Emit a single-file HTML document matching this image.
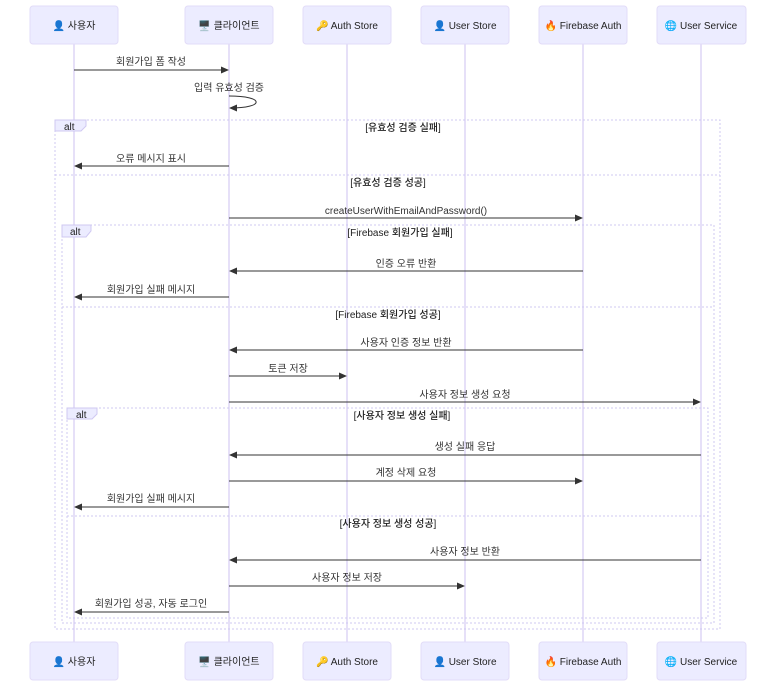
<!DOCTYPE html>
<html><head><meta charset="utf-8"><style>
html,body{margin:0;padding:0;background:#fff;}
svg{display:block;}
text{font-family:"Liberation Sans","Noto Sans CJK KR",sans-serif;font-size:10px;fill:#333;}
.b{fill:#ECECFF;stroke:#e2dcf8;stroke-width:1;}
.bt{font-size:10px;fill:#222;}
.ll{stroke:#ddd6f6;stroke-width:1.5;}
.m{stroke:#333;stroke-width:1;fill:none;}
.f{fill:none;stroke:#cfc8f2;stroke-width:1;stroke-dasharray:2,2;}
.al{fill:#ECECFF;stroke:#cfc8f2;stroke-width:1;}
.c{fill:#222;font-weight:500;}
</style></head><body>
<svg width="784" height="694" viewBox="0 0 784 694" xmlns="http://www.w3.org/2000/svg">
<defs><marker id="a" markerWidth="8" markerHeight="8" refX="7" refY="4" orient="auto" markerUnits="userSpaceOnUse"><path d="M0,0.5 L8,4 L0,7.5 z" fill="#333"/></marker></defs>
<g>
<line class="ll" x1="74" y1="44" x2="74" y2="642"/>
<line class="ll" x1="229" y1="44" x2="229" y2="642"/>
<line class="ll" x1="347" y1="44" x2="347" y2="642"/>
<line class="ll" x1="465" y1="44" x2="465" y2="642"/>
<line class="ll" x1="583" y1="44" x2="583" y2="642"/>
<line class="ll" x1="701" y1="44" x2="701" y2="642"/>
</g>
<g>
<rect class="b" x="30" y="6" width="88" height="38" rx="3"/><rect class="b" x="185" y="6" width="88" height="38" rx="3"/><rect class="b" x="303" y="6" width="88" height="38" rx="3"/><rect class="b" x="421" y="6" width="88" height="38" rx="3"/><rect class="b" x="539" y="6" width="88" height="38" rx="3"/><rect class="b" x="657" y="6" width="89" height="38" rx="3"/>
<text class="bt" x="74" y="29" text-anchor="middle">👤 사용자</text>
<text class="bt" x="229" y="29" text-anchor="middle">🖥️ 클라이언트</text>
<text class="bt" x="347" y="29" text-anchor="middle">🔑 Auth Store</text>
<text class="bt" x="465" y="29" text-anchor="middle">👤 User Store</text>
<text class="bt" x="583" y="29" text-anchor="middle">🔥 Firebase Auth</text>
<text class="bt" x="701" y="29" text-anchor="middle">🌐 User Service</text>
<rect class="b" x="30" y="642" width="88" height="38" rx="3"/><rect class="b" x="185" y="642" width="88" height="38" rx="3"/><rect class="b" x="303" y="642" width="88" height="38" rx="3"/><rect class="b" x="421" y="642" width="88" height="38" rx="3"/><rect class="b" x="539" y="642" width="88" height="38" rx="3"/><rect class="b" x="657" y="642" width="89" height="38" rx="3"/>
<text class="bt" x="74" y="665" text-anchor="middle">👤 사용자</text>
<text class="bt" x="229" y="665" text-anchor="middle">🖥️ 클라이언트</text>
<text class="bt" x="347" y="665" text-anchor="middle">🔑 Auth Store</text>
<text class="bt" x="465" y="665" text-anchor="middle">👤 User Store</text>
<text class="bt" x="583" y="665" text-anchor="middle">🔥 Firebase Auth</text>
<text class="bt" x="701" y="665" text-anchor="middle">🌐 User Service</text>
</g>
<rect class="f" x="55" y="120" width="665" height="509"/>
<line class="f" x1="55" y1="175" x2="720" y2="175"/>
<path class="al" d="M55,120 H86 V126 L81,131 H55 Z"/><text class="c" x="64" y="130">alt</text>
<text class="c" x="403" y="131" text-anchor="middle">[유효성 검증 실패]</text>
<text class="c" x="388" y="186" text-anchor="middle">[유효성 검증 성공]</text>
<rect class="f" x="62" y="225" width="652" height="398"/>
<line class="f" x1="62" y1="307" x2="714" y2="307"/>
<path class="al" d="M62,225 H91 V231 L86,237 H62 Z"/><text class="c" x="70" y="235">alt</text>
<text class="c" x="400" y="236" text-anchor="middle">[Firebase 회원가입 실패]</text>
<text class="c" x="388" y="318" text-anchor="middle">[Firebase 회원가입 성공]</text>
<rect class="f" x="67" y="408" width="641" height="210"/>
<line class="f" x1="67" y1="516" x2="708" y2="516"/>
<path class="al" d="M67,408 H97 V414 L92,419 H67 Z"/><text class="c" x="76" y="418">alt</text>
<text class="c" x="402" y="419" text-anchor="middle">[사용자 정보 생성 실패]</text>
<text class="c" x="388" y="527" text-anchor="middle">[사용자 정보 생성 성공]</text>
<g>
<line class="m" x1="74" y1="70" x2="228" y2="70" marker-end="url(#a)"/><text x="151" y="65" text-anchor="middle">회원가입 폼 작성</text>
<text x="229" y="91" text-anchor="middle">입력 유효성 검증</text>
<path class="m" d="M229,96 C265,96 265,108 230,108" marker-end="url(#a)"/>
<line class="m" x1="229" y1="166" x2="75" y2="166" marker-end="url(#a)"/><text x="151" y="162" text-anchor="middle">오류 메시지 표시</text>
<line class="m" x1="229" y1="218" x2="582" y2="218" marker-end="url(#a)"/><text x="406" y="214" text-anchor="middle">createUserWithEmailAndPassword()</text>
<line class="m" x1="583" y1="271" x2="230" y2="271" marker-end="url(#a)"/><text x="406" y="267" text-anchor="middle">인증 오류 반환</text>
<line class="m" x1="229" y1="297" x2="75" y2="297" marker-end="url(#a)"/><text x="151" y="293" text-anchor="middle">회원가입 실패 메시지</text>
<line class="m" x1="583" y1="350" x2="230" y2="350" marker-end="url(#a)"/><text x="406" y="346" text-anchor="middle">사용자 인증 정보 반환</text>
<line class="m" x1="229" y1="376" x2="346" y2="376" marker-end="url(#a)"/><text x="288" y="372" text-anchor="middle">토큰 저장</text>
<line class="m" x1="229" y1="402" x2="700" y2="402" marker-end="url(#a)"/><text x="465" y="398" text-anchor="middle">사용자 정보 생성 요청</text>
<line class="m" x1="701" y1="455" x2="230" y2="455" marker-end="url(#a)"/><text x="465" y="450" text-anchor="middle">생성 실패 응답</text>
<line class="m" x1="229" y1="481" x2="582" y2="481" marker-end="url(#a)"/><text x="406" y="476" text-anchor="middle">계정 삭제 요청</text>
<line class="m" x1="229" y1="507" x2="75" y2="507" marker-end="url(#a)"/><text x="151" y="502" text-anchor="middle">회원가입 실패 메시지</text>
<line class="m" x1="701" y1="560" x2="230" y2="560" marker-end="url(#a)"/><text x="465" y="555" text-anchor="middle">사용자 정보 반환</text>
<line class="m" x1="229" y1="586" x2="464" y2="586" marker-end="url(#a)"/><text x="347" y="581" text-anchor="middle">사용자 정보 저장</text>
<line class="m" x1="229" y1="612" x2="75" y2="612" marker-end="url(#a)"/><text x="151" y="607" text-anchor="middle">회원가입 성공, 자동 로그인</text>
</g>
</svg>
</body></html>
